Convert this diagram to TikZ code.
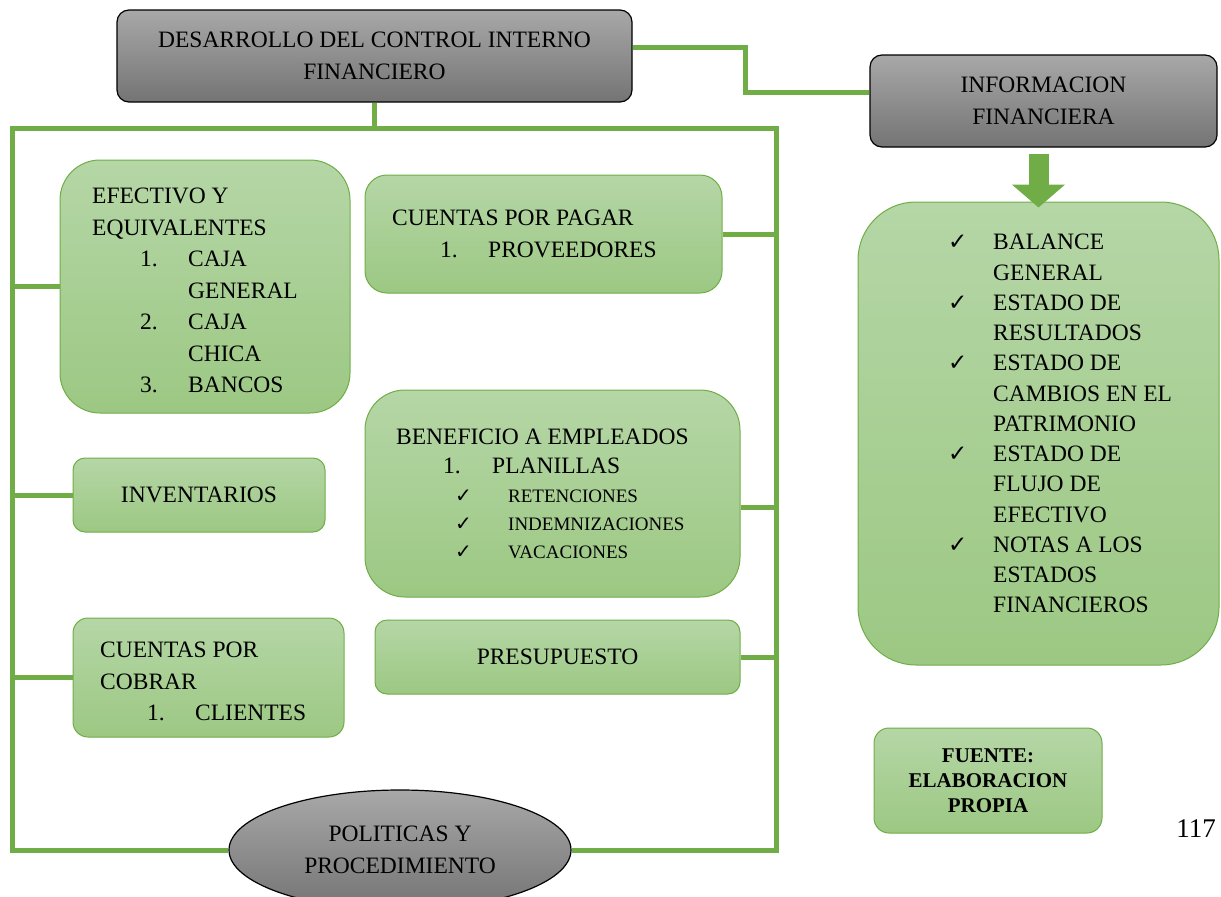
\documentclass[tikz,border=0pt]{standalone}
\usepackage{fontspec}
\setmainfont{Liberation Serif}
\newfontfamily\symfont{DejaVu Sans}
\usetikzlibrary{shapes.geometric,arrows.meta}

\definecolor{verde}{HTML}{70AD47}
\definecolor{verdeclaro}{HTML}{B5D6A6}
\definecolor{verdeoscuro}{HTML}{9CC883}
\definecolor{grisclaro}{HTML}{A8A8A8}
\definecolor{grisoscuro}{HTML}{747474}

\newcommand{\letra}{\fontsize{23.5}{31.5}\selectfont}
\newcommand{\chk}[1]{{\symfont\fontsize{#1}{#1}\selectfont ✓}}

\tikzset{
  graybox/.style={draw=black,line width=1.2pt,rounded corners=12pt,
    top color=grisclaro,bottom color=grisoscuro,
    align=center,inner sep=0pt,font=\letra},
  greenbox/.style={draw=verde,line width=1pt,
    top color=verdeclaro,bottom color=verdeoscuro,
    align=center,inner sep=0pt,font=\letra},
  texto/.style={anchor=north west,align=left,inner sep=0pt,font=\letra},
  bus/.style={draw=verde,line width=5pt},
}

\begin{document}
\begin{tikzpicture}[x=1pt,y=-1pt]
\useasboundingbox (0,0) rectangle (1221,897);

% cajas grises
\node[graybox,minimum width=515pt,minimum height=92pt]
(control)
at (374.5,56)
{DESARROLLO DEL CONTROL INTERNO\\FINANCIERO};

\node[graybox,minimum width=347pt,minimum height=92pt]
(info)
at (1043.5,101)
{INFORMACION\\FINANCIERA};

\node[ellipse,draw=black,line width=1.2pt,
  top color=grisclaro,bottom color=grisoscuro,
  minimum width=342pt,minimum height=120pt,
  inner sep=0pt,align=center,font=\letra]
(politicas)
at (400,850)
{POLITICAS Y\\PROCEDIMIENTO};

% cajas verdes
\node[greenbox,rounded corners=40pt,minimum width=290pt,minimum height=253pt]
(efectivo)
at (205,286.5)
{};

\node[texto]
(efectivotxt)
at (92,188)
{EFECTIVO Y\\
EQUIVALENTES\\
\hspace*{48pt}\makebox[48pt][l]{1.}CAJA\\
\hspace*{96pt}GENERAL\\
\hspace*{48pt}\makebox[48pt][l]{2.}CAJA\\
\hspace*{96pt}CHICA\\
\hspace*{48pt}\makebox[48pt][l]{3.}BANCOS};

\node[greenbox,rounded corners=22pt,minimum width=357pt,minimum height=118pt]
(pagar)
at (543.5,234)
{};

\node[texto]
(pagartxt)
at (392,210)
{CUENTAS POR PAGAR\\
\hspace*{48pt}\makebox[48pt][l]{1.}PROVEEDORES};

\node[greenbox,rounded corners=12pt,minimum width=252pt,minimum height=74pt]
(inventarios)
at (199,495)
{INVENTARIOS};

\node[greenbox,rounded corners=40pt,minimum width=375pt,minimum height=207pt]
(beneficio)
at (552.5,493.5)
{};

\node[texto,font=\fontsize{23.5}{29}\selectfont]
(beneficiotxt)
at (396,429)
{BENEFICIO A EMPLEADOS\\
\hspace*{47pt}\makebox[49pt][l]{1.}PLANILLAS};

\node[texto,font=\fontsize{19}{28}\selectfont]
(planillastxt)
at (455,490)
{\makebox[53pt][l]{\chk{20}}RETENCIONES\\
\makebox[53pt][l]{\chk{20}}INDEMNIZACIONES\\
\makebox[53pt][l]{\chk{20}}VACACIONES};

\node[greenbox,rounded corners=15pt,minimum width=271pt,minimum height=119pt]
(cobrar)
at (208.5,677.5)
{};

\node[texto]
(cobrartxt)
at (100,642)
{CUENTAS POR\\
COBRAR\\
\hspace*{47pt}\makebox[48pt][l]{1.}CLIENTES};

\node[greenbox,rounded corners=12pt,minimum width=365pt,minimum height=74pt]
(presupuesto)
at (557.5,657)
{PRESUPUESTO};

\node[greenbox,rounded corners=58pt,minimum width=361pt,minimum height=463pt]
(fin)
at (1038.5,433.5)
{};

\node[texto,font=\fontsize{23.5}{30.25}\selectfont]
(fintxt)
at (948,234)
{\makebox[45pt][l]{\chk{23}}BALANCE\\
\hspace*{45pt}GENERAL\\
\makebox[45pt][l]{\chk{23}}ESTADO DE\\
\hspace*{45pt}RESULTADOS\\
\makebox[45pt][l]{\chk{23}}ESTADO DE\\
\hspace*{45pt}CAMBIOS EN EL\\
\hspace*{45pt}PATRIMONIO\\
\makebox[45pt][l]{\chk{23}}ESTADO DE\\
\hspace*{45pt}FLUJO DE\\
\hspace*{45pt}EFECTIVO\\
\makebox[45pt][l]{\chk{23}}NOTAS A LOS\\
\hspace*{45pt}ESTADOS\\
\hspace*{45pt}FINANCIEROS};

\node[greenbox,rounded corners=15pt,minimum width=228pt,minimum height=105pt,
  font=\fontsize{21}{25}\selectfont\bfseries]
(fuente)
at (988,780.5)
{FUENTE:\\ELABORACION\\PROPIA};

\node[font=\fontsize{27}{27}\selectfont,inner sep=0pt]
(pagina)
at (1196,829)
{117};

% lineas
\coordinate (bustl) at (12,128);
\coordinate (bustr) at (776,128);

\draw[bus]
(control.south)
--
(control.south |- bustl);

\draw[bus]
(politicas.west) -| (bustl) -- (bustr) |- (politicas.east);

\draw[bus]
([yshift=9pt]control.east)
-- ++(113,0)
|- ([yshift=9pt]info.west);

\draw[bus] (efectivo.west) -- (efectivo.west -| bustl);
\draw[bus] (inventarios.west) -- (inventarios.west -| bustl);
\draw[bus] (cobrar.west) -- (cobrar.west -| bustl);
\draw[bus] (pagar.east) -- (pagar.east -| bustr);
\draw[bus] ([yshift=-14pt]beneficio.east) -- ([yshift=-14pt]beneficio.east -| bustr);
\draw[bus] (presupuesto.east) -- (presupuesto.east -| bustr);

% flecha
\draw[verde,line width=20pt,-{Triangle[length=23pt,width=52pt]}]
([yshift=-6pt]info.south -| fin.north)
--
([yshift=-6pt]fin.north);

\end{tikzpicture}
\end{document}
